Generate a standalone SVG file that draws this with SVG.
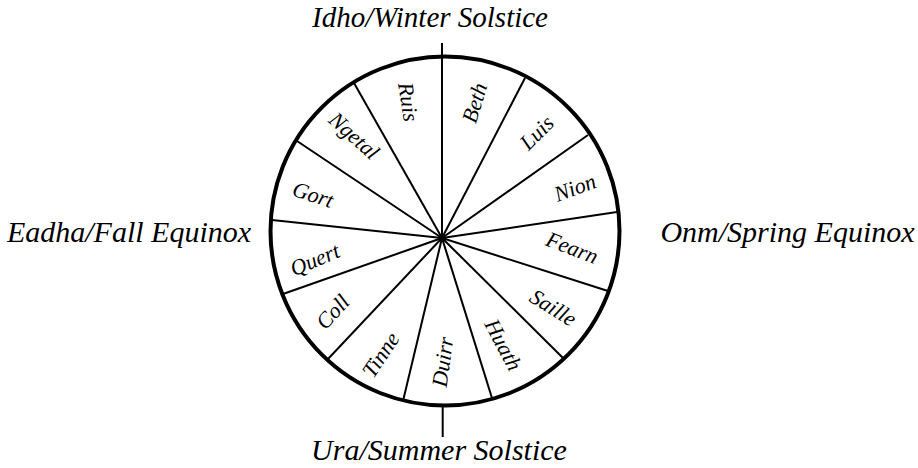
<svg xmlns="http://www.w3.org/2000/svg" width="918" height="468" viewBox="0 0 918 468">
<style>
  .title { font-family: "Liberation Serif", "DejaVu Serif", serif; font-style: italic; font-size: 30px; fill: #000; text-anchor: middle; }
  .lbl { font-family: "Liberation Serif", "DejaVu Serif", serif; font-style: italic; font-size: 22px; fill: #000; text-anchor: middle; }
  .spoke { stroke: #000; stroke-width: 2; fill: none; }
  .rim { stroke: #000; stroke-width: 4; fill: none; }
</style>
<rect width="918" height="468" fill="#fff"/>
<g id="connectors">
  <line class="spoke" x1="442" y1="43" x2="442" y2="238"/>
  <line class="spoke" x1="442.7" y1="405" x2="442.7" y2="437"/>
  <line class="spoke" x1="442" y1="238" x2="525" y2="78"/>
  <line class="spoke" x1="442" y1="238" x2="588" y2="135"/>
  <line class="spoke" x1="442" y1="238" x2="617" y2="212"/>
  <line class="spoke" x1="442" y1="238" x2="608" y2="291"/>
  <line class="spoke" x1="442" y1="238" x2="563" y2="358"/>
  <line class="spoke" x1="442" y1="238" x2="492" y2="398"/>
  <line class="spoke" x1="442" y1="238" x2="403" y2="401"/>
  <line class="spoke" x1="442" y1="238" x2="328" y2="359"/>
  <line class="spoke" x1="442" y1="238" x2="283" y2="294"/>
  <line class="spoke" x1="442" y1="238" x2="272" y2="220"/>
  <line class="spoke" x1="442" y1="238" x2="297" y2="141"/>
  <line class="spoke" x1="442" y1="238" x2="354" y2="83"/>
</g>
<g id="wheel">
  <circle class="rim" cx="445" cy="231" r="174.5"/>
</g>
<g id="segment-beth"><text class="lbl" transform="translate(475,103) rotate(-73)" y="7">Beth</text></g>
<g id="segment-luis"><text class="lbl" transform="translate(537,133) rotate(-45)" y="7">Luis</text></g>
<g id="segment-nion"><text class="lbl" transform="translate(575,188) rotate(-20.5)" y="7">Nion</text></g>
<g id="segment-fearn"><text class="lbl" transform="translate(572,248) rotate(21)" y="7">Fearn</text></g>
<g id="segment-saille"><text class="lbl" transform="translate(553,308) rotate(32)" y="7">Saille</text></g>
<g id="segment-huath"><text class="lbl" transform="translate(503,345) rotate(62)" y="7">Huath</text></g>
<g id="segment-duirr"><text class="lbl" transform="translate(443,362) rotate(-82)" y="7">Duirr</text></g>
<g id="segment-tinne"><text class="lbl" transform="translate(381,355) rotate(-56)" y="7">Tinne</text></g>
<g id="segment-coll"><text class="lbl" transform="translate(333,312) rotate(-47)" y="7">Coll</text></g>
<g id="segment-quert"><text class="lbl" transform="translate(315,260) rotate(-23)" y="7">Quert</text></g>
<g id="segment-gort"><text class="lbl" transform="translate(313,195) rotate(18)" y="7">Gort</text></g>
<g id="segment-ngetal"><text class="lbl" transform="translate(354,136) rotate(42)" y="7">Ngetal</text></g>
<g id="segment-ruis"><text class="lbl" transform="translate(408,102) rotate(81)" y="7">Ruis</text></g>
<g id="label-winter"><text class="title" x="430" y="26.5" style="font-size:29px">Idho/Winter Solstice</text></g>
<g id="label-summer"><text class="title" x="439" y="460">Ura/Summer Solstice</text></g>
<g id="label-fall"><text class="title" x="129" y="242">Eadha/Fall Equinox</text></g>
<g id="label-spring"><text class="title" x="787.5" y="242">Onm/Spring Equinox</text></g>
</svg>
